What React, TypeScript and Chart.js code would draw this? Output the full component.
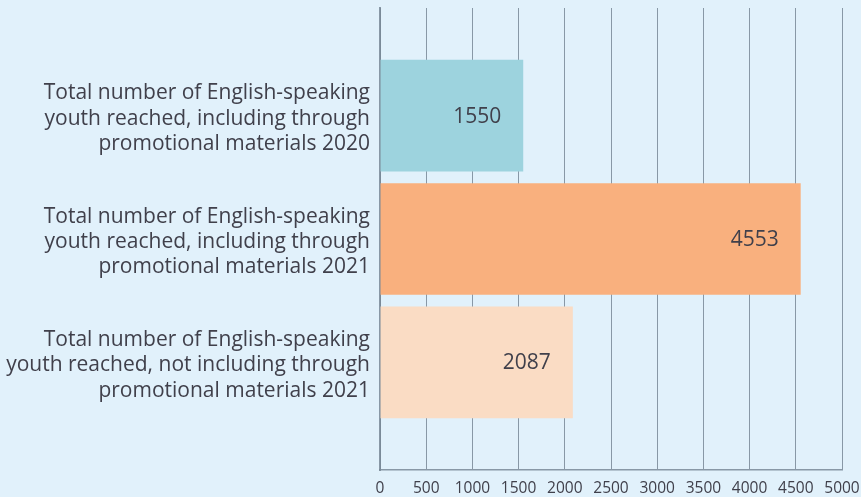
import { useEffect, useRef } from "react";
import { Chart, registerables } from "chart.js";

Chart.register(...registerables);

const categoryLines: string[][] = [
  ["Total number of English-speaking", "youth reached, including through", "promotional materials 2020"],
  ["Total number of English-speaking", "youth reached, including through", "promotional materials 2021"],
  ["Total number of English-speaking", "youth reached, not including through", "promotional materials 2021"],
];
const values: number[] = [1550, 4553, 2087];
const barColors: string[] = ["#9dd3de", "#f9b07e", "#fadcc4"];
const xMin = 0;
const xMax = 5000;
const xStep = 500;

const BG = "#e1f1fb";
const TEXT = "#40404b";
const GRID = "rgba(120,136,150,0.85)";
const FONT = "'Open Sans', 'Noto Sans', sans-serif";

export default function App() {
  const ref = useRef<HTMLCanvasElement>(null);
  useEffect(() => {
    document.body.style.margin = "0";
    document.body.style.background = BG;
    const valueLabels = {
      id: "valueLabels",
      afterDatasetsDraw(chart: any) {
        const ctx = chart.ctx;
        const meta = chart.getDatasetMeta(0);
        ctx.save();
        ctx.font = `400 21px ${FONT}`;
        ctx.fillStyle = TEXT;
        ctx.textAlign = "right";
        ctx.textBaseline = "middle";
        meta.data.forEach((el: any, i: number) => {
          ctx.fillText(String(values[i]), el.x - 22, el.y + 1);
        });
        ctx.restore();
      },
    };
    const chart = new Chart(ref.current as HTMLCanvasElement, {
      type: "bar",
      data: {
        datasets: [
          {
            data: values.map((v, i) => ({ x: v, y: i })) as any,
            backgroundColor: barColors,
            borderWidth: 0,
            barPercentage: 0.905,
            categoryPercentage: 1,
          },
        ],
      },
      options: {
        indexAxis: "y",
        animation: false,
        responsive: false,
        layout: { padding: { top: 8, right: 0, bottom: 0 } },
        plugins: { legend: { display: false }, tooltip: { enabled: false }, title: { display: false } },
        scales: {
          x: {
            type: "linear",
            min: xMin,
            max: xMax,
            afterFit: (s: any) => {
              s.height = 27;
              s.paddingBottom = 0;
              s.paddingTop = 0;
              s.paddingRight = 19;
              s.paddingLeft = 0;
            },
            ticks: {
              stepSize: xStep,
              callback: (v: any) => String(v),
              font: { family: FONT, size: 15.5 },
              color: TEXT,
              padding: 9,
              maxRotation: 0,
              autoSkip: false,
            },
            grid: { color: GRID, lineWidth: 1, drawTicks: false },
            border: { color: GRID, width: 1.5 },
          },
          y: {
            type: "linear",
            reverse: true,
            offset: false,
            min: -0.873,
            max: 2.873,
            afterBuildTicks: (s: any) => {
              s.ticks = categoryLines.map((_, i) => ({ value: i }));
            },
            afterFit: (s: any) => {
              s.width = 380;
              s.paddingTop = 0;
              s.paddingBottom = 0;
            },
            ticks: {
              callback: (v: any) => categoryLines[v as number] ?? "",
              font: { family: FONT, size: 21, lineHeight: 1.21 },
              color: TEXT,
              padding: 10,
              labelOffset: 3,
              autoSkip: false,
            },
            grid: { display: false, drawTicks: false },
            border: { display: true, color: GRID, width: 2 },
          },
        },
      },
      plugins: [valueLabels],
    } as any);
    return () => chart.destroy();
  }, []);
  return <canvas ref={ref} width={861} height={497} style={{ display: "block" }} />;
}
